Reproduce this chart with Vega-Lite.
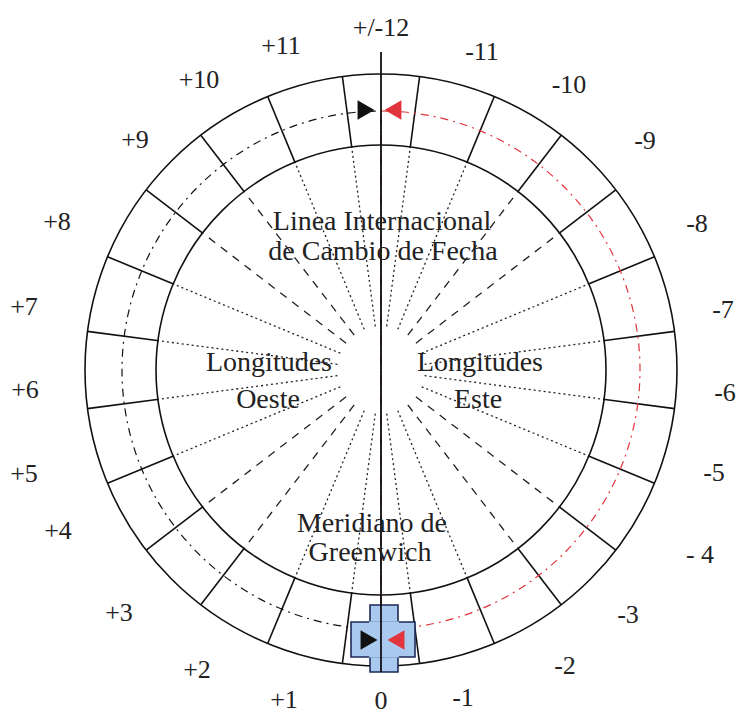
{
 "$schema": "https://vega.github.io/schema/vega-lite/v6.json",
 "width": 712, "height": 694,
 "autosize": {"type": "none"},
 "padding": {"left": 25, "top": 23, "right": 0, "bottom": 0},
 "background": "white",
 "config": {"view": {"stroke": null}},
 "datasets": {
  "circles": [{"name": "outer", "r": 296, "t1": 0, "t2": 360}, {"name": "inner", "r": 225, "t1": 0, "t2": 360}],
  "halves": [{"side": "oeste", "r": 259, "t1": 180, "t2": 360, "c": "#111111"}, {"side": "este", "r": 259, "t1": 0, "t2": 180, "c": "#e2343c"}],
  "ring": [
   {"x": 29.2, "y": 222.1, "x2": 38.6, "y2": 293.5}, {"x": 85.7, "y": 206.9, "x2": 113.3, "y2": 273.5}, {"x": 136.4, "y": 177.7, "x2": 180.2, "y2": 234.8}, {"x": 177.7, "y": 136.4, "x2": 234.8, "y2": 180.2}, {"x": 206.9, "y": 85.7, "x2": 273.5, "y2": 113.3}, {"x": 222.1, "y": 29.2, "x2": 293.5, "y2": 38.6},
   {"x": 29.2, "y": -222.1, "x2": 38.6, "y2": -293.5}, {"x": 85.7, "y": -206.9, "x2": 113.3, "y2": -273.5}, {"x": 136.4, "y": -177.7, "x2": 180.2, "y2": -234.8}, {"x": 177.7, "y": -136.4, "x2": 234.8, "y2": -180.2}, {"x": 206.9, "y": -85.7, "x2": 273.5, "y2": -113.3}, {"x": 222.1, "y": -29.2, "x2": 293.5, "y2": -38.6},
   {"x": -29.2, "y": 222.1, "x2": -38.6, "y2": 293.5}, {"x": -85.7, "y": 206.9, "x2": -113.3, "y2": 273.5}, {"x": -136.4, "y": 177.7, "x2": -180.2, "y2": 234.8}, {"x": -177.7, "y": 136.4, "x2": -234.8, "y2": 180.2}, {"x": -206.9, "y": 85.7, "x2": -273.5, "y2": 113.3}, {"x": -222.1, "y": 29.2, "x2": -293.5, "y2": 38.6},
   {"x": -29.2, "y": -222.1, "x2": -38.6, "y2": -293.5}, {"x": -85.7, "y": -206.9, "x2": -113.3, "y2": -273.5}, {"x": -136.4, "y": -177.7, "x2": -180.2, "y2": -234.8}, {"x": -177.7, "y": -136.4, "x2": -234.8, "y2": -180.2}, {"x": -206.9, "y": -85.7, "x2": -273.5, "y2": -113.3}, {"x": -222.1, "y": -29.2, "x2": -293.5, "y2": -38.6}
  ],
  "spokes": [
   {"x": 5.7, "y": 43.6, "x2": 29.2, "y2": 222.1, "s": "dot"}, {"x": 16.8, "y": 40.7, "x2": 85.7, "y2": 206.9, "s": "dot"}, {"x": 26.8, "y": 34.9, "x2": 136.4, "y2": 177.7, "s": "dash"}, {"x": 34.9, "y": 26.8, "x2": 177.7, "y2": 136.4, "s": "dash"}, {"x": 40.7, "y": 16.8, "x2": 206.9, "y2": 85.7, "s": "dot"}, {"x": 43.6, "y": 5.7, "x2": 222.1, "y2": 29.2, "s": "dot"},
   {"x": 5.7, "y": -43.6, "x2": 29.2, "y2": -222.1, "s": "dot"}, {"x": 16.8, "y": -40.7, "x2": 85.7, "y2": -206.9, "s": "dot"}, {"x": 26.8, "y": -34.9, "x2": 136.4, "y2": -177.7, "s": "dash"}, {"x": 34.9, "y": -26.8, "x2": 177.7, "y2": -136.4, "s": "dash"}, {"x": 40.7, "y": -16.8, "x2": 206.9, "y2": -85.7, "s": "dot"}, {"x": 43.6, "y": -5.7, "x2": 222.1, "y2": -29.2, "s": "dot"},
   {"x": -5.7, "y": 43.6, "x2": -29.2, "y2": 222.1, "s": "dot"}, {"x": -16.8, "y": 40.7, "x2": -85.7, "y2": 206.9, "s": "dot"}, {"x": -26.8, "y": 34.9, "x2": -136.4, "y2": 177.7, "s": "dash"}, {"x": -34.9, "y": 26.8, "x2": -177.7, "y2": 136.4, "s": "dash"}, {"x": -40.7, "y": 16.8, "x2": -206.9, "y2": 85.7, "s": "dot"}, {"x": -43.6, "y": 5.7, "x2": -222.1, "y2": 29.2, "s": "dot"},
   {"x": -5.7, "y": -43.6, "x2": -29.2, "y2": -222.1, "s": "dot"}, {"x": -16.8, "y": -40.7, "x2": -85.7, "y2": -206.9, "s": "dot"}, {"x": -26.8, "y": -34.9, "x2": -136.4, "y2": -177.7, "s": "dash"}, {"x": -34.9, "y": -26.8, "x2": -177.7, "y2": -136.4, "s": "dash"}, {"x": -40.7, "y": -16.8, "x2": -206.9, "y2": -85.7, "s": "dot"}, {"x": -43.6, "y": -5.7, "x2": -222.1, "y2": -29.2, "s": "dot"}
  ],
  "meridian": [{"x": 0, "y": 318, "x2": 0, "y2": -302}],
  "box": [{"part": "vertical", "x": -11, "x2": 17, "y": -235, "y2": -302}, {"part": "horizontal", "x": -30, "x2": 34, "y": -252, "y2": -287}],
  "boxcore": [{"x": -11.8, "x2": 17.8, "y": -251.2, "y2": -287.8}],
  "arrows": [
   {"pos": "top", "dir": "oeste", "x": -15, "y": 260, "shape": "triangle-right", "c": "#111111"},
   {"pos": "top", "dir": "este", "x": 12, "y": 260, "shape": "triangle-left", "c": "#e2343c"},
   {"pos": "bottom", "dir": "oeste", "x": -12, "y": -270, "shape": "triangle-right", "c": "#111111"},
   {"pos": "bottom", "dir": "este", "x": 15, "y": -270, "shape": "triangle-left", "c": "#e2343c"}
  ],
  "zones": [
   {"t": "+/-12", "x": 0, "y": 342}, {"t": "+11", "x": -100, "y": 324}, {"t": "-11", "x": 101, "y": 318},
   {"t": "+10", "x": -182, "y": 290}, {"t": "-10", "x": 188, "y": 285}, {"t": "+9", "x": -246, "y": 230}, {"t": "-9", "x": 264, "y": 229},
   {"t": "+8", "x": -324, "y": 148}, {"t": "-8", "x": 316, "y": 146}, {"t": "+7", "x": -357, "y": 63}, {"t": "-7", "x": 342, "y": 60},
   {"t": "+6", "x": -356, "y": -20}, {"t": "-6", "x": 344, "y": -23}, {"t": "+5", "x": -357, "y": -104}, {"t": "-5", "x": 333, "y": -103},
   {"t": "+4", "x": -323, "y": -161}, {"t": "- 4", "x": 319, "y": -185}, {"t": "+3", "x": -262, "y": -243}, {"t": "-3", "x": 247, "y": -245},
   {"t": "+2", "x": -184, "y": -300}, {"t": "-2", "x": 184, "y": -296}, {"t": "+1", "x": -97, "y": -330}, {"t": "-1", "x": 82, "y": -328}, {"t": "0", "x": 0, "y": -331}
  ],
  "notes": [
   {"t": "Linea Internacional", "x": 1, "y": 148}, {"t": "de Cambio de Fecha", "x": 2, "y": 118},
   {"t": "Longitudes", "x": -112, "y": 7}, {"t": "Oeste", "x": -113, "y": -30},
   {"t": "Longitudes", "x": 99, "y": 7}, {"t": "Este", "x": 97, "y": -30},
   {"t": "Meridiano de", "x": -9, "y": -154}, {"t": "Greenwich", "x": -11, "y": -183}
  ]
 },
 "layer": [
  {
   "data": {"name": "circles"},
   "mark": {"type": "arc", "filled": false, "color": "#111111", "strokeWidth": 1.6},
   "encoding": {
    "theta": {"field": "t1", "type": "quantitative", "stack": null, "scale": {"domain": [0, 360], "range": [0, 6.283185307179586]}},
    "theta2": {"field": "t2"},
    "radius": {"field": "r", "type": "quantitative", "scale": {"type": "linear", "zero": true, "domain": [0, 400], "range": [0, 400]}}
   }
  },
  {
   "data": {"name": "ring"},
   "mark": {"type": "rule", "color": "#111111", "strokeWidth": 1.6},
   "encoding": {
    "x": {"field": "x", "type": "quantitative", "axis": null, "scale": {"domain": [-356, 356], "nice": false, "zero": false}},
    "y": {"field": "y", "type": "quantitative", "axis": null, "scale": {"domain": [-347, 347], "nice": false, "zero": false}},
    "x2": {"field": "x2"}, "y2": {"field": "y2"}
   }
  },
  {
   "data": {"name": "spokes"},
   "mark": {"type": "rule", "color": "#222222", "strokeWidth": 1.3},
   "encoding": {
    "x": {"field": "x", "type": "quantitative", "axis": null, "scale": {"domain": [-356, 356], "nice": false, "zero": false}},
    "y": {"field": "y", "type": "quantitative", "axis": null, "scale": {"domain": [-347, 347], "nice": false, "zero": false}},
    "x2": {"field": "x2"}, "y2": {"field": "y2"},
    "strokeDash": {"field": "s", "type": "nominal", "legend": null, "scale": {"domain": ["dot", "dash"], "range": [[2, 3], [8, 7]]}}
   }
  },
  {
   "data": {"name": "halves"},
   "mark": {"type": "arc", "filled": false, "strokeWidth": 1.2, "strokeDash": [8, 5, 2, 5]},
   "encoding": {
    "theta": {"field": "t1", "type": "quantitative", "stack": null, "scale": {"domain": [0, 360], "range": [0, 6.283185307179586]}},
    "theta2": {"field": "t2"},
    "radius": {"field": "r", "type": "quantitative", "scale": {"type": "linear", "zero": true, "domain": [0, 400], "range": [0, 400]}},
    "color": {"field": "c", "type": "nominal", "scale": null, "legend": null}
   }
  },
  {
   "data": {"name": "box"},
   "mark": {"type": "rect", "fill": "#a9c9ef", "stroke": "#1d2a55", "strokeWidth": 1.6},
   "encoding": {
    "x": {"field": "x", "type": "quantitative", "axis": null, "scale": {"domain": [-356, 356], "nice": false, "zero": false}},
    "y": {"field": "y", "type": "quantitative", "axis": null, "scale": {"domain": [-347, 347], "nice": false, "zero": false}},
    "x2": {"field": "x2"}, "y2": {"field": "y2"}
   }
  },
  {
   "data": {"name": "boxcore"},
   "mark": {"type": "rect", "fill": "#a9c9ef", "strokeWidth": 0},
   "encoding": {
    "x": {"field": "x", "type": "quantitative", "axis": null, "scale": {"domain": [-356, 356], "nice": false, "zero": false}},
    "y": {"field": "y", "type": "quantitative", "axis": null, "scale": {"domain": [-347, 347], "nice": false, "zero": false}},
    "x2": {"field": "x2"}, "y2": {"field": "y2"}
   }
  },
  {
   "data": {"name": "meridian"},
   "mark": {"type": "rule", "color": "#111111", "strokeWidth": 1.8},
   "encoding": {
    "x": {"field": "x", "type": "quantitative", "axis": null, "scale": {"domain": [-356, 356], "nice": false, "zero": false}},
    "y": {"field": "y", "type": "quantitative", "axis": null, "scale": {"domain": [-347, 347], "nice": false, "zero": false}},
    "x2": {"field": "x2"}, "y2": {"field": "y2"}
   }
  },
  {
   "data": {"name": "arrows"},
   "mark": {"type": "point", "filled": true, "size": 380, "opacity": 1},
   "encoding": {
    "x": {"field": "x", "type": "quantitative", "axis": null, "scale": {"domain": [-356, 356], "nice": false, "zero": false}},
    "y": {"field": "y", "type": "quantitative", "axis": null, "scale": {"domain": [-347, 347], "nice": false, "zero": false}},
    "shape": {"field": "shape", "type": "nominal", "scale": null, "legend": null},
    "color": {"field": "c", "type": "nominal", "scale": null, "legend": null}
   }
  },
  {
   "data": {"name": "zones"},
   "mark": {"type": "text", "font": "Liberation Serif", "fontSize": 26, "color": "#222222", "baseline": "middle", "align": "center"},
   "encoding": {
    "x": {"field": "x", "type": "quantitative", "axis": null, "scale": {"domain": [-356, 356], "nice": false, "zero": false}},
    "y": {"field": "y", "type": "quantitative", "axis": null, "scale": {"domain": [-347, 347], "nice": false, "zero": false}},
    "text": {"field": "t", "type": "nominal"}
   }
  },
  {
   "data": {"name": "notes"},
   "mark": {"type": "text", "font": "Liberation Serif", "fontSize": 28, "color": "#222222", "baseline": "middle", "align": "center"},
   "encoding": {
    "x": {"field": "x", "type": "quantitative", "axis": null, "scale": {"domain": [-356, 356], "nice": false, "zero": false}},
    "y": {"field": "y", "type": "quantitative", "axis": null, "scale": {"domain": [-347, 347], "nice": false, "zero": false}},
    "text": {"field": "t", "type": "nominal"}
   }
  }
 ]
}
